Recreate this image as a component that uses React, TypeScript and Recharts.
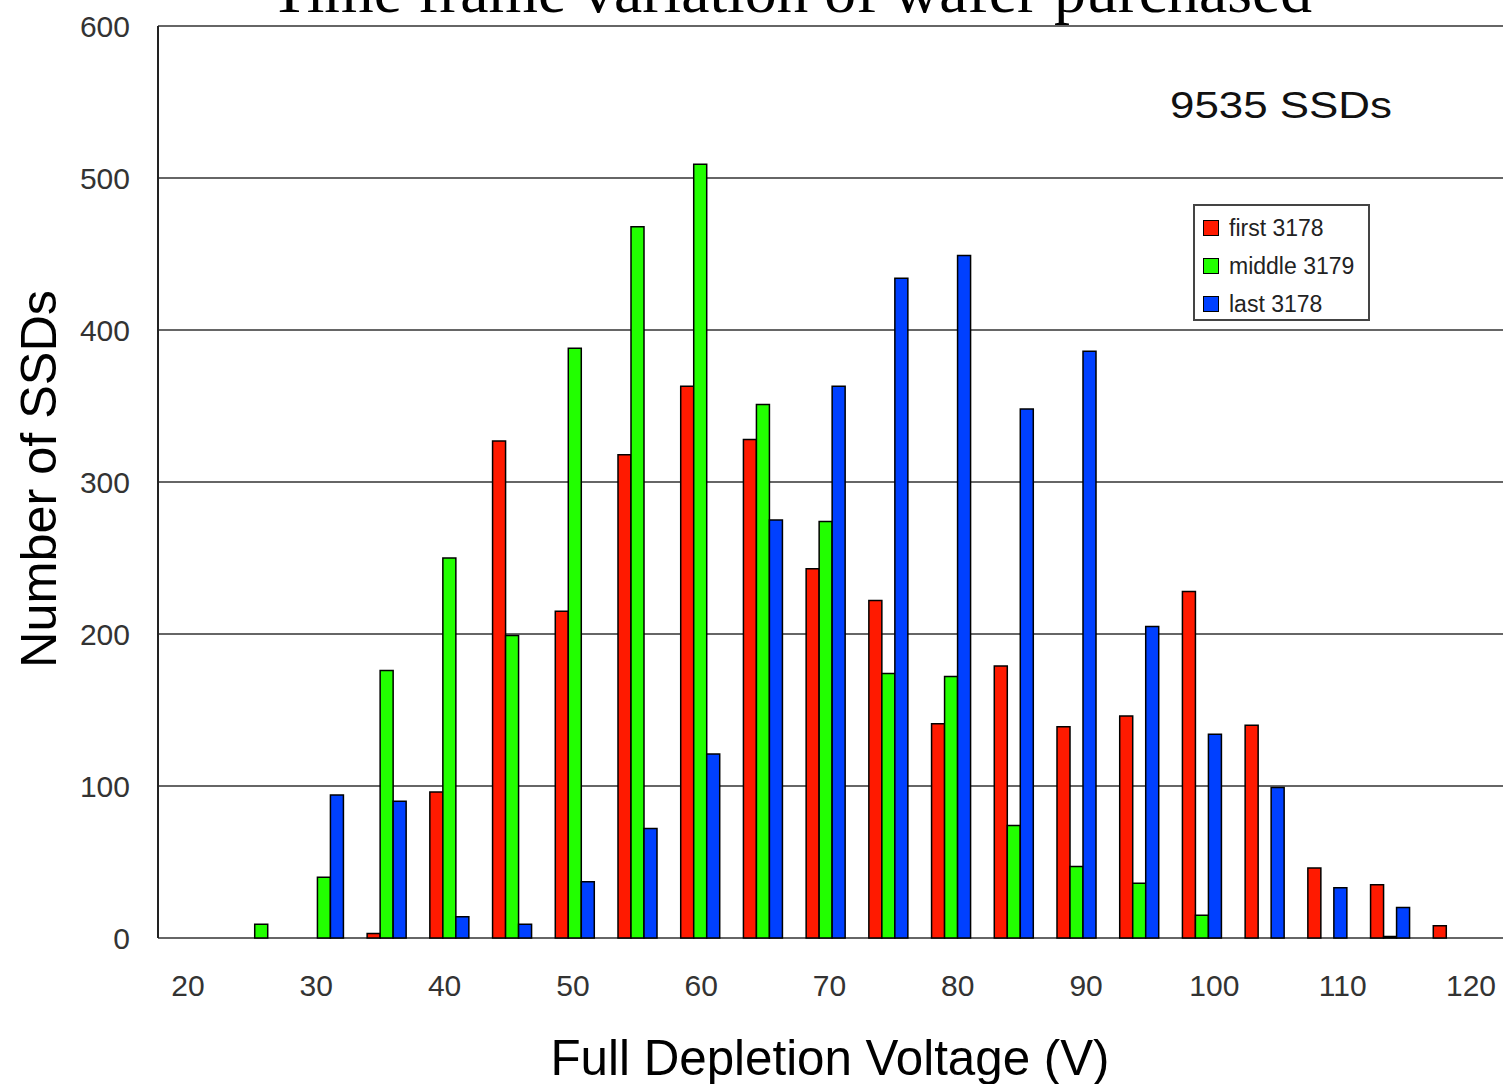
import React from "react";
import { BarChart, Bar, XAxis, YAxis, CartesianGrid, Legend } from "recharts";

// histogram bins (V) and counts per wafer batch
const volts = [20, 25, 30, 35, 40, 45, 50, 55, 60, 65, 70, 75, 80, 85, 90, 95, 100, 105, 110, 115, 120];
const first = [0, 0, 0, 3, 96, 327, 215, 318, 363, 328, 243, 222, 141, 179, 139, 146, 228, 140, 46, 35, 8];
const middle = [0, 9, 40, 176, 250, 199, 388, 468, 509, 351, 274, 174, 172, 74, 47, 36, 15, 0, 0, 1, 0];
const last = [0, 0, 94, 90, 14, 9, 37, 72, 121, 275, 363, 434, 449, 348, 386, 205, 134, 99, 33, 20, 0];

const xLabels = [20, 30, 40, 50, 60, 70, 80, 90, 100, 110, 120];
const yTicks = [0, 100, 200, 300, 400, 500, 600];

const series = [
  { key: "first", name: "first 3178", color: "#ff1a00" },
  { key: "middle", name: "middle 3179", color: "#22ff00" },
  { key: "last", name: "last 3178", color: "#0040ff" },
];

const data = volts.map((v, i) => ({ v, first: first[i], middle: middle[i], last: last[i] }));

const sans = "'Liberation Sans', Arial, sans-serif";

// small inward tick marks sitting on the bin boundaries
function BinTick(props: any) {
  const { x, y, payload, index } = props;
  if (index >= volts.length - 1) return null;
  const bx = x + (payload?.offset ?? 31);
  return <line x1={bx} x2={bx} y1={y} y2={y - 9} stroke="#333" strokeWidth={2} />;
}

function LegendBox() {
  return (
    <div
      style={{
        width: 173,
        height: 110,
        border: "2px solid #444",
        background: "#fff",
        fontFamily: sans,
        fontSize: 23,
        color: "#222",
        paddingTop: 3,
        boxSizing: "content-box",
      }}
    >
      {series.map((s) => (
        <div key={s.key} style={{ display: "flex", alignItems: "center", height: 38 }}>
          <span
            style={{
              display: "inline-block",
              width: 14,
              height: 14,
              marginLeft: 8,
              marginRight: 10,
              background: s.color,
              border: "1.5px solid #000",
            }}
          />
          <span>{s.name}</span>
        </div>
      ))}
    </div>
  );
}

export default function App() {
  return (
    <div style={{ position: "absolute", left: 0, top: 0, background: "#fff" }}>
      <BarChart
        width={1503}
        height={1084}
        data={data}
        margin={{ top: 26, right: 0, left: 0, bottom: 0 }}
        barGap={0}
        barSize={13}
      >
        <CartesianGrid xAxisId="cat" vertical={false} stroke="#333" strokeWidth={1.5} />
        <XAxis
          xAxisId="cat"
          dataKey="v"
          type="category"
          height={0}
          padding={{ left: 9, right: 19 }}
          interval={0}
          tick={<BinTick />}
          tickLine={false}
          tickSize={0}
          tickMargin={0}
          axisLine={{ stroke: "#333", strokeWidth: 2 }}
        />
        <XAxis
          xAxisId="volt"
          dataKey="v"
          type="number"
          domain={[17.662, 122.494]}
          allowDataOverflow
          ticks={xLabels}
          interval={0}
          height={146}
          tickLine={false}
          axisLine={false}
          tickSize={0}
          tickMargin={37}
          tick={{ fontSize: 30, fill: "#333", fontFamily: sans }}
        />
        <YAxis
          domain={[0, 600]}
          ticks={yTicks}
          width={158}
          interval={0}
          tickLine={false}
          tickSize={0}
          tickMargin={28}
          axisLine={{ stroke: "#222", strokeWidth: 2 }}
          tick={{ fontSize: 30, fill: "#333", fontFamily: sans }}
        />
        <Legend
          layout="horizontal"
          verticalAlign="middle"
          align="center"
          content={<LegendBox />}
          wrapperStyle={{ position: "absolute", left: 1193, top: 204, width: 177, height: 114 }}
        />
        {series.map((s) => (
          <Bar
            key={s.key}
            xAxisId="cat"
            dataKey={s.key}
            name={s.name}
            fill={s.color}
            stroke="#000"
            strokeWidth={1.5}
            isAnimationActive={false}
          />
        ))}
        <text
          x={270}
          y={12}
          fontFamily="'Liberation Serif', 'Times New Roman', serif"
          fontSize={62}
          fill="#000"
          textLength={1042}
          lengthAdjust="spacingAndGlyphs"
        >
          Time frame variation of wafer purchased
        </text>
        <text
          x={1170}
          y={118}
          fontFamily={sans}
          fontSize={36}
          fill="#111"
          textLength={222}
          lengthAdjust="spacingAndGlyphs"
        >
          9535 SSDs
        </text>
        <text
          x={56}
          y={479}
          transform="rotate(-90 56 479)"
          textAnchor="middle"
          fontFamily={sans}
          fontSize={50}
          fill="#000"
          textLength={378}
          lengthAdjust="spacingAndGlyphs"
        >
          Number of SSDs
        </text>
        <text
          x={830}
          y={1075}
          textAnchor="middle"
          fontFamily={sans}
          fontSize={50}
          fill="#000"
          textLength={559}
          lengthAdjust="spacingAndGlyphs"
        >
          Full Depletion Voltage (V)
        </text>
      </BarChart>
    </div>
  );
}
